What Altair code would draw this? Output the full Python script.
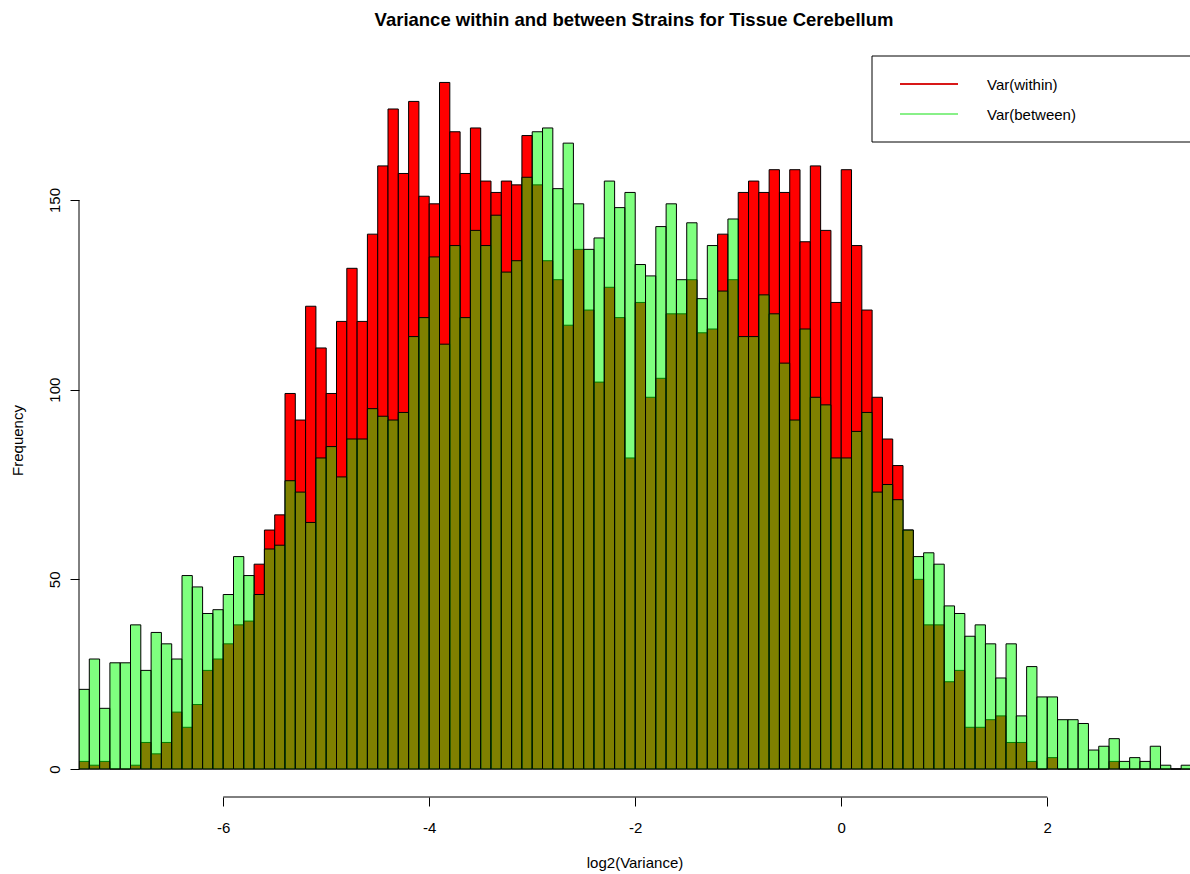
import altair as alt
import numpy as np
import pandas as pd

# Histogram breaks: 108 bins of width 0.1 starting at -7.4
BREAK_START = -7.4
BIN_WIDTH = 0.1

# Counts per bin for the within-strain variance (log2)
within_counts = [
    2, 1, 2, 0, 0, 1, 7, 4, 7, 15,
    11, 17, 26, 29, 33, 38, 39, 54, 63, 67,
    99, 92, 122, 111, 99, 118, 132, 118, 141, 159,
    174, 157, 176, 151, 149, 181, 168, 157, 169, 155,
    152, 155, 154, 167, 154, 134, 129, 117, 137, 121,
    102, 127, 119, 82, 123, 98, 103, 120, 120, 129,
    115, 116, 141, 129, 152, 155, 152, 158, 152, 158,
    139, 159, 142, 123, 158, 138, 121, 98, 87, 80,
    63, 50, 38, 38, 23, 26, 11, 11, 13, 14,
    7, 7, 2, 0, 3, 0, 0, 0, 0, 0,
    2, 0, 0, 0, 0, 0, 0, 0,
]

# Counts per bin for the between-strain variance (log2)
between_counts = [
    21, 29, 16, 28, 28, 38, 26, 36, 33, 29,
    51, 48, 41, 42, 46, 56, 51, 46, 58, 59,
    76, 73, 65, 82, 85, 77, 87, 87, 95, 93,
    92, 94, 114, 119, 135, 112, 138, 119, 142, 138,
    146, 131, 134, 156, 168, 169, 153, 165, 149, 137,
    140, 155, 148, 152, 133, 130, 143, 149, 129, 144,
    124, 138, 126, 145, 114, 114, 125, 120, 107, 92,
    116, 98, 96, 82, 82, 89, 94, 73, 75, 71,
    63, 56, 57, 54, 43, 41, 35, 38, 33, 24,
    33, 14, 27, 19, 19, 13, 13, 12, 5, 6,
    8, 2, 3, 2, 6, 1, 0, 1,
]

x_ticks = [-6, -4, -2, 0, 2]
y_ticks = [0, 50, 100, 150]

title_text = "Variance within and between Strains for Tissue Cerebellum"
x_title = "log2(Variance)"
y_title = "Frequency"
legend_labels = ["Var(within)", "Var(between)"]
legend_colors = ["#D81818", "#88F088"]

FONT = "Liberation Sans"
TXT = 15  # base text size

n_bins = len(within_counts)
starts = np.round(BREAK_START + BIN_WIDTH * np.arange(n_bins), 1)
ends = np.round(starts + BIN_WIDTH, 1)

hist = pd.DataFrame({
    "start": starts,
    "end": ends,
    "within": within_counts,
    "between": between_counts,
})

W, H = 1111, 746
x_scale = alt.Scale(domain=[-7.4, 3.386], nice=False, zero=False)
y_scale = alt.Scale(domain=[-7.38, 189.29], nice=False, zero=False)

# plain ASCII hyphen for negative tick labels
plain_label = "datum.value + ''"

x_axis = alt.Axis(
    values=x_ticks, labelExpr=plain_label, domain=False, grid=False, tickSize=9,
    tickColor="black", labelFont=FONT, labelFontSize=TXT, labelColor="black",
    labelPadding=14,
    title=x_title, titleFont=FONT, titleFontSize=TXT, titleFontWeight="normal",
    titleColor="black", titleY=65, titleBaseline="middle",
)
y_axis = alt.Axis(
    values=y_ticks, labelExpr=plain_label, domain=False, grid=False, tickSize=9,
    tickColor="black", labelFont=FONT, labelFontSize=TXT, labelColor="black",
    labelPadding=16, labelAngle=270, labelAlign="center", labelBaseline="middle",
    title=y_title, titleFont=FONT, titleFontSize=TXT, titleFontWeight="normal",
    titleColor="black", titleAngle=270, titleX=-62, titleY=389,
    titleAlign="center", titleBaseline="middle",
)

base = alt.Chart(hist)

within_bars = base.mark_rect(
    color="#FF0000", stroke="black", strokeWidth=1, clip=True
).encode(
    x=alt.X("start:Q", scale=x_scale, axis=x_axis),
    x2="end:Q",
    y=alt.Y("within:Q", scale=y_scale, axis=y_axis),
    y2=alt.datum(0),
)

between_bars = base.mark_rect(
    color="#00FF00", fillOpacity=0.5, stroke="black", strokeWidth=1, clip=True
).encode(
    x=alt.X("start:Q", scale=x_scale),
    x2="end:Q",
    y=alt.Y("between:Q", scale=y_scale),
    y2=alt.datum(0),
)

# Axis lines spanning only the tick range
x_line = alt.Chart(pd.DataFrame({"a": [x_ticks[0]], "b": [x_ticks[-1]]})).mark_rule(
    color="black", strokeWidth=1
).encode(x=alt.X("a:Q", scale=x_scale), x2="b:Q", y=alt.value(H))

y_line = alt.Chart(pd.DataFrame({"a": [y_ticks[0]], "b": [y_ticks[-1]]})).mark_rule(
    color="black", strokeWidth=1
).encode(y=alt.Y("a:Q", scale=y_scale), y2="b:Q", x=alt.value(0))

# Main title
title = alt.Chart(pd.DataFrame({"t": [title_text]})).mark_text(
    font=FONT, fontSize=18.5, fontWeight="bold", color="black",
    align="center", baseline="middle",
).encode(text="t:N", x=alt.value(555), y=alt.value(-31))

# Legend box with line keys
legend_box = alt.Chart(pd.DataFrame({"k": [0]})).mark_rect(
    fill="white", stroke="black", strokeWidth=1
).encode(x=alt.value(793), x2=alt.value(1140), y=alt.value(5), y2=alt.value(91))

legend_layers = [legend_box]
for i, (lab, col) in enumerate(zip(legend_labels, legend_colors)):
    row_y = 33 + 30 * i
    d = pd.DataFrame({"label": [lab]})
    legend_layers.append(
        alt.Chart(d).mark_rule(color=col, strokeWidth=2).encode(
            x=alt.value(821), x2=alt.value(879), y=alt.value(row_y)
        )
    )
    legend_layers.append(
        alt.Chart(d).mark_text(
            font=FONT, fontSize=TXT, color="black", align="left", baseline="middle"
        ).encode(text="label:N", x=alt.value(908), y=alt.value(row_y + 1))
    )

chart = alt.layer(
    within_bars, between_bars, x_line, y_line, title, *legend_layers
).properties(
    width=W, height=H,
    autosize=alt.AutoSizeParams(type="none"),
    padding={"left": 79, "top": 51, "right": 0, "bottom": 75},
    background="white",
).configure_view(strokeWidth=0, stroke="transparent")

chart.save("out.html", embed_options={"renderer": "svg", "actions": False})
